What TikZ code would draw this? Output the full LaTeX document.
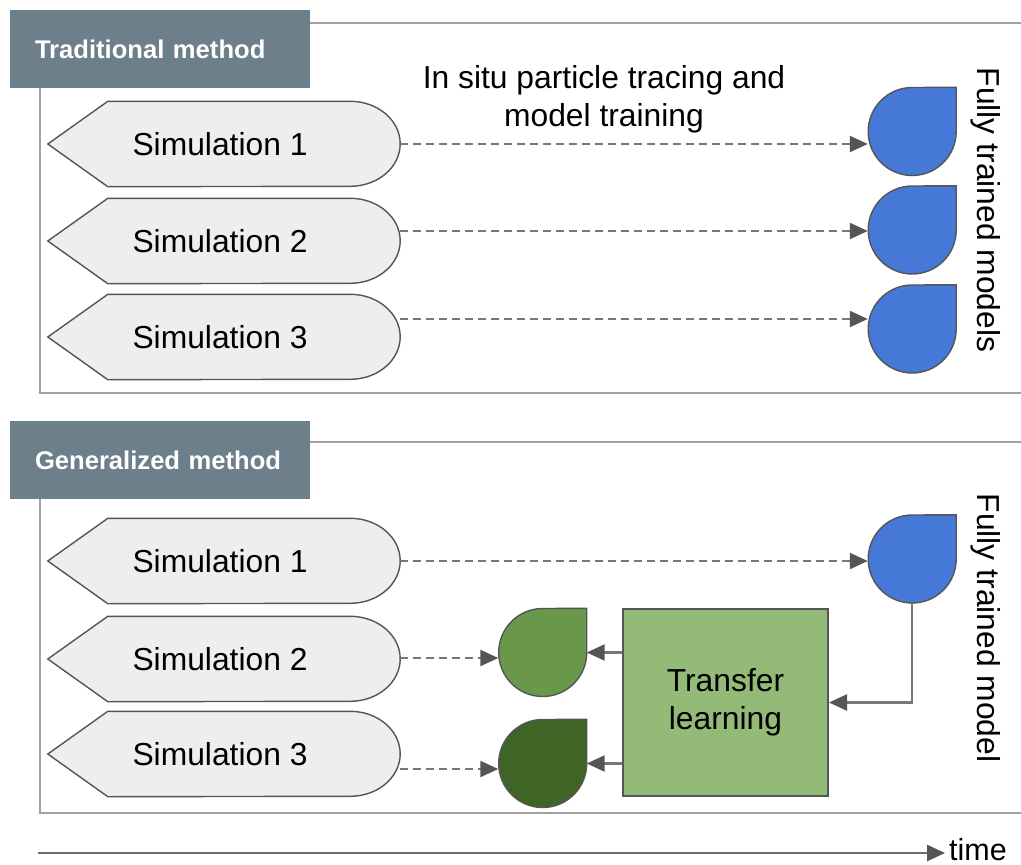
\documentclass[tikz,border=0pt]{standalone}
\usepackage{fontspec}
\setmainfont{Liberation Sans}
\usetikzlibrary{arrows.meta,backgrounds,calc}

\definecolor{frameline}{HTML}{A0A0A0}
\definecolor{labelfill}{HTML}{6D7F8B}
\definecolor{simfill}{HTML}{EEEEEE}
\definecolor{edgegray}{HTML}{555555}
\definecolor{dashgray}{HTML}{777777}
\definecolor{modelblue}{HTML}{4678D8}
\definecolor{modelgreen}{HTML}{6A984B}
\definecolor{modeldark}{HTML}{3E6426}
\definecolor{boxgreen}{HTML}{93BB77}

\newcommand\bodyfont{\fontsize{31.8}{38}\selectfont}

\tikzset{
  panelline/.style={draw=frameline, line width=2.5pt},
  paneltag/.style={fill=labelfill, minimum width=300pt, minimum height=78pt,
    inner sep=0pt, text width=250pt, align=left, text=white,
    font=\fontsize{25.6}{30}\selectfont\bfseries},
  simbox/.style={minimum width=352pt, minimum height=85pt, inner sep=0pt,
    font=\bodyfont},
  simline/.style={draw=edgegray, fill=simfill, line width=1.4pt},
  dropbox/.style={minimum width=88pt, minimum height=88pt, inner sep=0pt},
  dropline/.style={draw=edgegray, line width=1.4pt},
  tip/.style={-{Triangle[length=18pt,width=16pt,fill=edgegray,color=edgegray]}},
  dasharrow/.style={draw=dashgray, line width=2.2pt, dash pattern=on 8pt off 5pt, tip},
  solidarrow/.style={draw=dashgray, line width=2.2pt, tip},
  tlbox/.style={draw=edgegray, fill=boxgreen, line width=2pt,
    minimum width=205pt, minimum height=187pt, inner sep=0pt, align=center,
    font=\bodyfont},
  sidetext/.style={rotate=-90, font=\bodyfont, inner sep=0pt},
}

\begin{document}
\begin{tikzpicture}[x=1pt, y=-1pt]
\useasboundingbox (0,0) rectangle (1021,865);

% ---------- panel tags ----------
\node[paneltag] (tag1) at (160,49) {Traditional method};
\node[paneltag] (tag2) at (160,460) {Generalized method};

% ---------- panel frames ----------
\draw[panelline] ([yshift=-13pt]tag1.north east) -- ++(711pt,0pt);
\draw[panelline] ([xshift=30pt]tag1.south west) -- ++(0pt,-305pt) -- ++(981pt,0pt);
\draw[panelline] ([yshift=-21pt]tag2.north east) -- ++(711pt,0pt);
\draw[panelline] ([xshift=30pt]tag2.south west) -- ++(0pt,-314pt) -- ++(981pt,0pt);

% ---------- simulations ----------
\node[simbox] (s1) at (224,144) {\hspace*{-8pt}Simulation 1};
\node[simbox] (s2) at (224,241) {\hspace*{-8pt}Simulation 2};
\node[simbox] (s3) at (224,337) {\hspace*{-8pt}Simulation 3};
\node[simbox] (r1) at (224,561) {\hspace*{-8pt}Simulation 1};
\node[simbox] (r2) at (224,659) {\hspace*{-8pt}Simulation 2};
\node[simbox] (r3) at (224,754) {\hspace*{-8pt}Simulation 3};

\begin{pgfonlayer}{background}
  \foreach \n in {s1,s2,s3,r1,r2,r3}
    \draw[simline] (\n.west) -- ([xshift=60pt]\n.north west)
      -- ([xshift=-50pt]\n.north east)
      arc[start angle=90, end angle=-90, x radius=50pt, y radius=42.5pt]
      -- ([xshift=60pt]\n.south west) -- cycle;
\end{pgfonlayer}

% ---------- trained models ----------
\node[dropbox] (d1) at (912,131.5) {};
\node[dropbox] (d2) at (912,230) {};
\node[dropbox] (d3) at (912,329) {};
\node[dropbox] (b1) at (912,559) {};
\node[dropbox] (g2) at (542.5,652.5) {};
\node[dropbox] (g3) at (542.5,763.5) {};

\foreach \n/\c in {d1/modelblue,d2/modelblue,d3/modelblue,b1/modelblue,
                   g2/modelgreen,g3/modeldark}
  \draw[dropline, fill=\c] (\n.north east) -- (\n.east)
    arc[start angle=0, end angle=-270, radius=44pt] -- cycle;

% ---------- transfer learning ----------
\node[tlbox] (tl) at (725.5,702.5) {Transfer\\learning};

% ---------- labels ----------
\node[font=\bodyfont, align=center, inner sep=0pt] (insitu) at (604,99)
  {In situ particle tracing and\\model training};
\node[sidetext] (ftm1) at (986,210) {Fully trained models};
\node[sidetext] (ftm2) at (986,628) {Fully trained model};

% ---------- connectors ----------
\coordinate (t1) at ([yshift=-12.5pt]d1.west);
\coordinate (t2) at ([yshift=-1pt]d2.west);
\coordinate (t3) at ([yshift=10pt]d3.west);
\coordinate (t4) at ([yshift=-2pt]b1.west);
\coordinate (t5) at ([yshift=-5.5pt]g2.west);
\coordinate (t6) at ([yshift=-5.5pt]g3.west);

\draw[dasharrow] (s1.east |- t1) -- (t1);
\draw[dasharrow] (s2.east |- t2) -- (t2);
\draw[dasharrow] (s3.east |- t3) -- (t3);
\draw[dasharrow] (r1.east |- t4) -- (t4);
\draw[dasharrow] (r2.east |- t5) -- (t5);
\draw[dasharrow] (r3.east |- t6) -- (t6);

\draw[solidarrow] (tl.west |- g2.east) -- (g2.east);
\draw[solidarrow] (tl.west |- g3.east) -- (g3.east);
\draw[solidarrow] (b1.south) -- (b1.south |- tl.east) -- (tl.east);

% ---------- time axis ----------
\node[font=\fontsize{30.5}{36}\selectfont, anchor=base west, inner sep=0pt] (time) at (949,860) {time};
\coordinate (t0) at (38,853);
\coordinate (t9) at ($(t0 -| time.west)+(-4,0)$);
\draw[solidarrow, draw=gray!85!black, line width=2.6pt] (t0) -- (t9);
\end{tikzpicture}
\end{document}
